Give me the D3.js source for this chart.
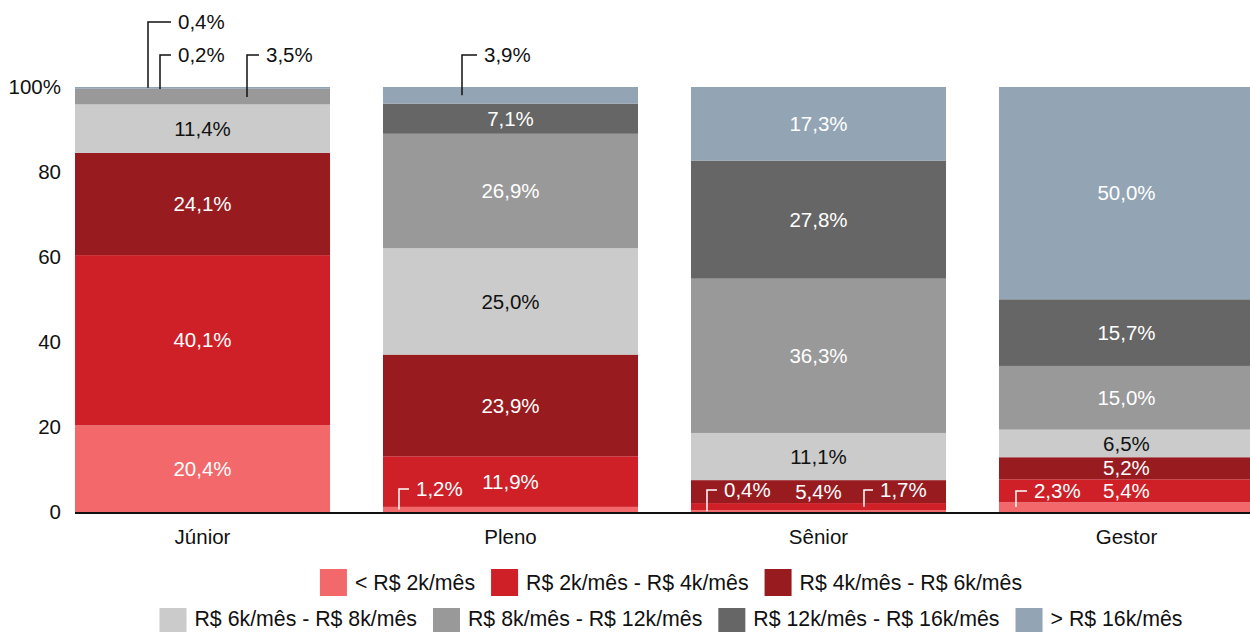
<!DOCTYPE html>
<html>
<head>
<meta charset="utf-8">
<script src="https://cdn.jsdelivr.net/npm/d3@7"></script>
<style>
  body { margin: 0; background: #fff; }
  svg { display: block; font-family: "Liberation Sans", Arial, sans-serif; }
</style>
</head>
<body>
<svg id="chart" width="1250" height="632"></svg>
<script>
// data
var categories = ['Júnior', 'Pleno', 'Sênior', 'Gestor'];
var seriesNames = ['< R$ 2k/mês', 'R$ 2k/mês - R$ 4k/mês', 'R$ 4k/mês - R$ 6k/mês',
  'R$ 6k/mês - R$ 8k/mês', 'R$ 8k/mês - R$ 12k/mês', 'R$ 12k/mês - R$ 16k/mês', '> R$ 16k/mês'];
var juniorValues = [20.4, 40.1, 24.1, 11.4, 3.5, 0.2, 0.4];
var plenoValues  = [1.2, 11.9, 23.9, 25.0, 26.9, 7.1, 3.9];
var seniorValues = [0.4, 1.7, 5.4, 11.1, 36.3, 27.8, 17.3];
var gestorValues = [2.3, 5.4, 5.2, 6.5, 15.0, 15.7, 50.0];
var yTicks = [0, 20, 40, 60, 80, 100];

var colors = ['#f2686b', '#cf2027', '#981b20', '#cbcbcb', '#999999', '#666666', '#93a5b5'];
var labelColors = ['#fff', '#fff', '#fff', '#111', '#fff', '#fff', '#fff'];

// small segments get a callout instead of a centred label
// s = series index, dx = x offset in the bar, knee = y of the elbow, len = horizontal arm
var callouts = [
  {cat: 'Júnior', s: 6, dx: 73, knee: 22, len: 23, color: '#111'},
  {cat: 'Júnior', s: 5, dx: 85, knee: 55, len: 11, color: '#111'},
  {cat: 'Júnior', s: 4, dx: 172, knee: 55, len: 12, color: '#111'},
  {cat: 'Pleno', s: 6, dx: 79, knee: 55, len: 15, color: '#111'},
  {cat: 'Pleno', s: 0, dx: 16, knee: 489, len: 10, color: '#fff'},
  {cat: 'Sênior', s: 0, dx: 16, knee: 490, len: 10, color: '#fff'},
  {cat: 'Sênior', s: 1, dx: 173, knee: 490, len: 9, color: '#fff'},
  {cat: 'Gestor', s: 0, dx: 17, knee: 491, len: 11, color: '#fff'}
];

var rows = [juniorValues, plenoValues, seniorValues, gestorValues].map(function(vals, i){
  var r = {cat: categories[i]};
  seriesNames.forEach(function(n, j){ r[n] = vals[j]; });
  return r;
});

var svg = d3.select('#chart');
var fs = 20.5;
var legendFs = 21.3;

var x = d3.scaleBand().domain(categories).range([75, 1254]).paddingInner(0.172).paddingOuter(0);
var y = d3.scaleLinear().domain([0, 1]).range([512, 87]);

var stack = d3.stack().keys(seriesNames).offset(d3.stackOffsetExpand);
var layers = stack(rows);

// bars
layers.forEach(function(layer, si){
  svg.append('g').selectAll('rect').data(layer).enter().append('rect')
    .attr('x', function(d){ return x(d.data.cat); })
    .attr('y', function(d){ return y(d[1]); })
    .attr('width', x.bandwidth())
    .attr('height', function(d){ return y(d[0]) - y(d[1]); })
    .attr('fill', colors[si]);
});

function fmt(v){ return v.toFixed(1).replace('.', ',') + '%'; }
function isCallout(cat, s){
  return callouts.some(function(c){ return c.cat == cat && c.s == s; });
}

// centred labels
layers.forEach(function(layer, si){
  svg.append('g').selectAll('text')
    .data(layer.filter(function(d){ return !isCallout(d.data.cat, si); }))
    .enter().append('text')
    .attr('x', function(d){ return x(d.data.cat) + x.bandwidth() / 2; })
    .attr('y', function(d){ return (y(d[0]) + y(d[1])) / 2; })
    .attr('dy', '0.35em')
    .attr('text-anchor', 'middle')
    .attr('font-size', fs)
    .attr('fill', labelColors[si])
    .text(function(d){ return fmt(d.data[seriesNames[si]]); });
});

// callouts
callouts.forEach(function(c){
  var ci = categories.indexOf(c.cat);
  var seg = layers[c.s][ci];
  var x0 = x(c.cat) + c.dx;
  var y0 = (y(seg[0]) + y(seg[1])) / 2;
  svg.append('path')
    .attr('d', 'M' + x0 + ',' + y0 + 'V' + c.knee + 'H' + (x0 + c.len))
    .attr('fill', 'none')
    .attr('stroke', c.color)
    .attr('stroke-width', 1.5);
  svg.append('text')
    .attr('x', x0 + c.len + 7)
    .attr('y', c.knee)
    .attr('dy', '0.35em')
    .attr('font-size', fs)
    .attr('fill', c.color)
    .text(fmt(rows[ci][seriesNames[c.s]]));
});

// baseline
svg.append('line')
  .attr('x1', 75).attr('x2', 1250)
  .attr('y1', y(0) + 1).attr('y2', y(0) + 1)
  .attr('stroke', '#111').attr('stroke-width', 2);

// y axis labels
svg.append('g').selectAll('text').data(yTicks).enter().append('text')
  .attr('x', 61)
  .attr('y', function(d){ return y(d / 100); })
  .attr('dy', '0.35em')
  .attr('text-anchor', 'end')
  .attr('font-size', fs)
  .attr('fill', '#111')
  .text(function(d){ return d == 100 ? '100%' : d; });

// x labels
svg.append('g').selectAll('text').data(categories).enter().append('text')
  .attr('x', function(d){ return x(d) + x.bandwidth() / 2; })
  .attr('y', 537)
  .attr('dy', '0.35em')
  .attr('text-anchor', 'middle')
  .attr('font-size', fs)
  .attr('fill', '#111')
  .text(function(d){ return d; });

// legend, two centred rows (second row sits against the bottom edge)
var legendRows = [[0, 1, 2], [3, 4, 5, 6]];
var rowTop = [569, 608];
var textMid = [582.5, 619];
var sq = 27, gap = 8, spacing = 16, centerX = 671;
legendRows.forEach(function(items, ri){
  var g = svg.append('g');
  var cx = 0;
  items.forEach(function(si){
    g.append('rect').attr('x', cx).attr('y', rowTop[ri]).attr('width', sq).attr('height', sq)
      .attr('fill', colors[si]);
    var t = g.append('text').attr('x', cx + sq + gap).attr('y', textMid[ri])
      .attr('dy', '0.35em').attr('font-size', legendFs).attr('fill', '#111').text(seriesNames[si]);
    cx += sq + gap + t.node().getComputedTextLength() + spacing;
  });
  var w = cx - spacing;
  g.attr('transform', 'translate(' + (centerX - w / 2) + ',0)');
});
</script>
</body>
</html>
